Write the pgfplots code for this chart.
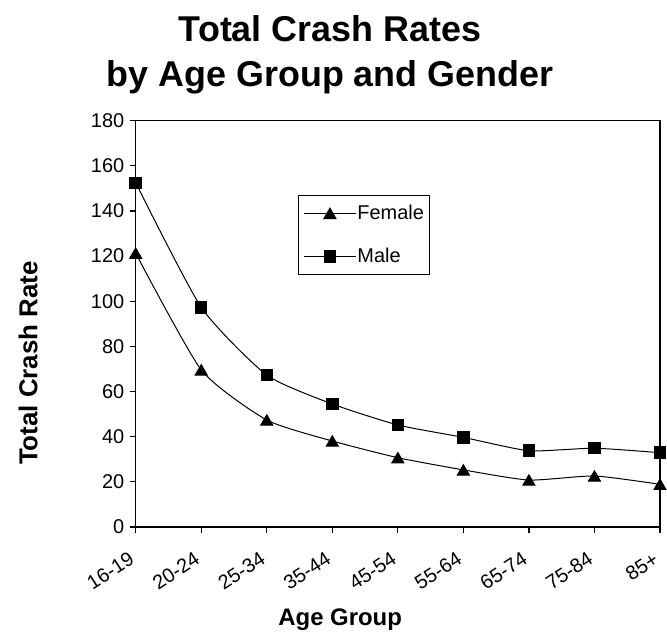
\documentclass[border=0pt]{standalone}
\usepackage{pgfplots}
\pgfplotsset{compat=1.18}
\usepackage{fontspec}
\setmainfont{Liberation Sans}
\pgfplotstableread{
x female male
0 121.3 152.5
1 69.6 97.3
2 47.4 67.3
3 38.1 54.5
4 30.7 45.2
5 25.3 39.7
6 20.8 33.8
7 22.6 34.9
8 18.9 32.9
}\crashdata
\begin{document}
\begin{tikzpicture}
\useasboundingbox (0,0) rectangle (667bp,632bp);
\node[anchor=base, font=\fontsize{36}{40}\selectfont\bfseries] at (330bp,590bp) {Total Crash Rates};
\node[anchor=base, font=\fontsize{36}{40}\selectfont\bfseries] at (330bp,545bp) {by Age Group and Gender};
\begin{axis}[
  at={(135.7bp,105bp)}, anchor=south west,
  scale only axis, width=524.3bp, height=406.3bp,
  xmin=0, xmax=8, ymin=0, ymax=180,
  xtick={0,...,8},
  xticklabels={16-19,20-24,25-34,35-44,45-54,55-64,65-74,75-84,85+},
  ytick={0,20,...,180},
  xtick pos=bottom, ytick pos=left,
  tick align=outside, major tick length=6bp,
  tick style={line width=1.2bp, black},
  axis line style={line width=1.4bp},
  tick label style={font=\fontsize{20}{24}\selectfont},
  /pgf/number format/assume math mode=true,
  yticklabel style={xshift=-2bp},
  xticklabel style={yshift=-22bp, xshift=-1bp, rotate=33, anchor=east},
  xlabel={Age Group},
  xlabel style={at={(axis description cs:0.39,-0.2435)}, anchor=base, font=\fontsize{24}{28}\selectfont\bfseries},
  ylabel={Total Crash Rate},
  ylabel style={at={(axis description cs:-0.2054,0.4036)}, anchor=center, font=\fontsize{26}{30}\selectfont\bfseries},
  legend style={at={(axis description cs:0.3096,0.8171)}, anchor=north west, draw=black, line width=0.8bp,
    font=\fontsize{20}{24}\selectfont, inner xsep=5bp, inner ysep=9bp, row sep=25bp,
    nodes={inner sep=1bp}},
  legend cell align=left,
  legend image code/.code={\draw[mark repeat=2,mark phase=2,#1] plot coordinates {(0bp,0bp) (26bp,0bp) (52bp,0bp)};},
]
\addplot[black, line width=1bp, smooth, tension=0.35, mark=triangle*, mark size=6.9bp, mark options={solid, yshift=-1.7bp}] table[x=x, y=female] {\crashdata};
\addlegendentry{Female}
\addplot[black, line width=1bp, smooth, tension=0.35, mark=square*, mark size=5.75bp, mark options={solid}] table[x=x, y=male] {\crashdata};
\addlegendentry{Male}
\end{axis}
\end{tikzpicture}
\end{document}
